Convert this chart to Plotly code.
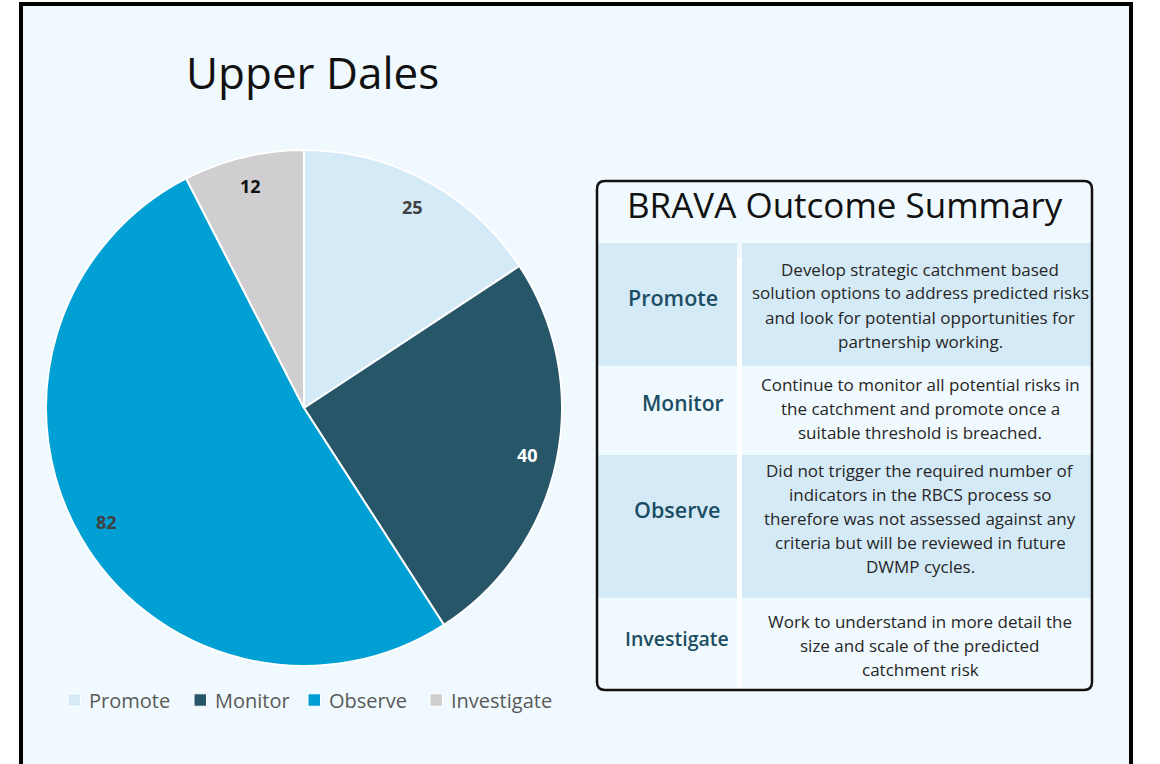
import math
import plotly.graph_objects as go

W, H = 1160, 764

# ---------------- data ----------------
categories = ["Promote", "Monitor", "Observe", "Investigate"]
values = [25, 40, 82, 12]
slice_colors = ["#D5EAF7", "#285669", "#009FD4", "#D0CED0"]
label_colors = ["#404040", "#FFFFFF", "#404040", "#111111"]

chart_title = "Upper Dales"
table_title = "BRAVA Outcome Summary"
descriptions = [
    ["Develop strategic catchment based",
     "solution options to address predicted risks",
     "and look for potential opportunities for",
     "partnership working."],
    ["Continue to monitor all potential risks in",
     "the catchment and promote once a",
     "suitable threshold is breached."],
    ["Did not trigger the required number of",
     "indicators in the RBCS process so",
     "therefore was not assessed against any",
     "criteria but will be reviewed in future",
     "DWMP cycles."],
    ["Work to understand in more detail the",
     "size and scale of the predicted",
     "catchment risk"],
]

FONT = "Open Sans, Lato, sans-serif"
BG = "#F0F9FD"
ROW_BLUE = "#D5EAF7"
LABEL_BLUE = "#1B4D63"


def X(px):
    return px / W


def Y(py):
    return 1 - py / H


fig = go.Figure()

# pie geometry (page pixels)
PX0, PX1, PY0, PY1 = 46, 562, 150, 666
CX, CY, R = (PX0 + PX1) / 2, (PY0 + PY1) / 2, (PX1 - PX0) / 2

fig.add_trace(go.Pie(
    labels=categories,
    values=values,
    sort=False,
    direction="clockwise",
    rotation=0,
    marker=dict(colors=slice_colors, line=dict(color="white", width=2)),
    textinfo="none",
    domain=dict(x=[X(PX0), X(PX1)], y=[Y(PY1), Y(PY0)]),
    hoverinfo="label+value+percent",
    showlegend=False,
))

shapes = []
annotations = []

# value labels placed along each slice's bisector, near the outer edge
total = sum(values)
cum = 0
for v, col in zip(values, label_colors):
    mid = (cum + v / 2) / total * 2 * math.pi
    cum += v
    lx = CX + 0.885 * R * math.sin(mid)
    ly = CY - 0.885 * R * math.cos(mid)
    annotations.append(dict(text=f"<b>{v}</b>", x=X(lx), y=Y(ly), xref="paper", yref="paper",
                            showarrow=False, xanchor="center", yanchor="middle",
                            font=dict(family=FONT, size=18, color=col)))

# outer frame
shapes.append(dict(type="rect", xref="paper", yref="paper",
                   x0=X(21), x1=X(1131), y0=Y(800), y1=Y(4),
                   line=dict(color="black", width=4), fillcolor=BG, layer="below"))

# table rows
row_bounds = [(243, 366), (366, 455), (455, 598), (598, 688)]
row_fill = [ROW_BLUE, BG, ROW_BLUE, BG]
L0, L1, R0, R1 = 598, 737, 742, 1091
for (t, b), fc in zip(row_bounds, row_fill):
    shapes.append(dict(type="rect", xref="paper", yref="paper",
                       x0=X(L0), x1=X(L1), y0=Y(b), y1=Y(t),
                       line=dict(width=0), fillcolor=fc, layer="below"))
    shapes.append(dict(type="rect", xref="paper", yref="paper",
                       x0=X(R0), x1=X(R1), y0=Y(b), y1=Y(t),
                       line=dict(width=0), fillcolor=fc, layer="below"))
# white separator
shapes.append(dict(type="rect", xref="paper", yref="paper",
                   x0=X(737), x1=X(742), y0=Y(688), y1=Y(258),
                   line=dict(width=0), fillcolor="white", layer="below"))

# rounded table border
bx0, bx1, by0, by1, r = 597, 1092, 181, 690, 8
path = (f"M {X(bx0 + r)} {Y(by0)} L {X(bx1 - r)} {Y(by0)} "
        f"Q {X(bx1)} {Y(by0)} {X(bx1)} {Y(by0 + r)} "
        f"L {X(bx1)} {Y(by1 - r)} Q {X(bx1)} {Y(by1)} {X(bx1 - r)} {Y(by1)} "
        f"L {X(bx0 + r)} {Y(by1)} Q {X(bx0)} {Y(by1)} {X(bx0)} {Y(by1 - r)} "
        f"L {X(bx0)} {Y(by0 + r)} Q {X(bx0)} {Y(by0)} {X(bx0 + r)} {Y(by0)} Z")
shapes.append(dict(type="path", xref="paper", yref="paper", path=path,
                   line=dict(color="#111111", width=2.5), fillcolor="rgba(0,0,0,0)"))

# titles
annotations.append(dict(text=chart_title, x=X(312), y=Y(72), xref="paper", yref="paper",
                        showarrow=False, xanchor="center", yanchor="middle",
                        font=dict(family=FONT, size=44, color="#111111", weight=500)))
annotations.append(dict(text=table_title, x=X(845), y=Y(205), xref="paper", yref="paper",
                        showarrow=False, xanchor="center", yanchor="middle",
                        font=dict(family=FONT, size=35, color="#111111", weight=500)))

# row labels and descriptions
label_pos = [(673, 298, 21.5), (683, 403, 21), (677, 509, 21.5), (677, 638, 19.5)]
line_start = [269, 384, 470, 621]
for cat, (lx, ly, ls), lines, y0 in zip(categories, label_pos, descriptions, line_start):
    annotations.append(dict(text=cat, x=X(lx), y=Y(ly), xref="paper", yref="paper",
                            showarrow=False, xanchor="center", yanchor="middle",
                            font=dict(family=FONT, size=ls, color=LABEL_BLUE, weight=600)))
    for i, ln in enumerate(lines):
        annotations.append(dict(text=ln, x=X(920), y=Y(y0 + 24 * i), xref="paper", yref="paper",
                                showarrow=False, xanchor="center", yanchor="middle",
                                font=dict(family=FONT, size=17, color="#262626")))

# legend (square swatch + label per category)
legend_x = [68, 194, 308, 430]
LEG_Y, SQ = 700, 12.5
for cat, col, lx in zip(categories, slice_colors, legend_x):
    shapes.append(dict(type="rect", xref="paper", yref="paper",
                       x0=X(lx), x1=X(lx + SQ), y0=Y(LEG_Y + SQ / 2), y1=Y(LEG_Y - SQ / 2),
                       line=dict(color="white", width=1), fillcolor=col))
    annotations.append(dict(text=cat, x=X(lx + SQ + 6), y=Y(LEG_Y), xref="paper", yref="paper",
                            showarrow=False, xanchor="left", yanchor="middle",
                            font=dict(family=FONT, size=20, color="#595959")))

fig.update_layout(
    width=W, height=H,
    margin=dict(l=0, r=0, t=0, b=0),
    paper_bgcolor="white",
    plot_bgcolor="white",
    shapes=shapes,
    annotations=annotations,
    showlegend=False,
)

fig.write_html(
    "out.html",
    config={"displayModeBar": False},
    post_script="document.body.style.margin='0';document.body.style.overflow='hidden';",
)
